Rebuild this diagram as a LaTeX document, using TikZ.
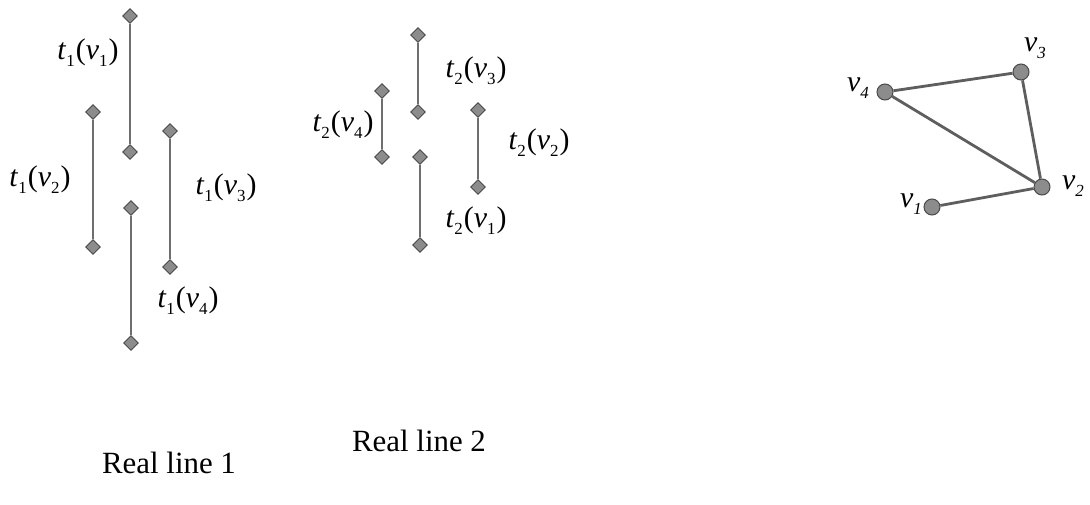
\documentclass[tikz,border=0pt]{standalone}
\usepackage{fontspec}
\setmainfont{Liberation Serif}
\usetikzlibrary{shapes.geometric}
\definecolor{segc}{HTML}{6E6E6E}
\definecolor{diafill}{HTML}{8C8C8C}
\definecolor{diadraw}{HTML}{4A4A4A}
\definecolor{edgec}{HTML}{5E5E5E}
\newcommand{\sbx}[1]{\lower0.5ex\hbox{\fontsize{17}{17}\selectfont #1}}
\newcommand{\tlab}[2]{\textit{t}\sbx{#1}\kern1pt(\textit{v}\sbx{#2}\kern1pt)}
\newcommand{\vlab}[1]{\textit{v}\sbx{\textit{#1}}}
\tikzset{
  dia/.style={diamond, fill=diafill, draw=diadraw, line width=0.9bp, minimum size=15bp, inner sep=0pt},
  seg/.style={draw=segc, line width=2.2bp},
  lab/.style={inner sep=0pt, font=\fontsize{30}{30}\selectfont},
  vdot/.style={circle, fill=diafill, draw=diadraw, line width=1bp, minimum size=16bp, inner sep=0pt},
  gedge/.style={draw=edgec, line width=2.8bp},
  captxt/.style={inner sep=0pt, font=\fontsize{31}{31}\selectfont}
}
\begin{document}
\begin{tikzpicture}[x=1bp,y=-1bp]
\useasboundingbox (0,0) rectangle (1090,505);
% Real line 1
\node[dia] (a1) at (130,16) {};
\node[dia] (b1) at (130,152) {};
\node[dia] (a2) at (93,112) {};
\node[dia] (b2) at (93,247) {};
\node[dia] (a3) at (170,131) {};
\node[dia] (b3) at (170,267) {};
\node[dia] (a4) at (131,208) {};
\node[dia] (b4) at (131,343) {};
\draw[seg] (a1) -- (b1);
\draw[seg] (a2) -- (b2);
\draw[seg] (a3) -- (b3);
\draw[seg] (a4) -- (b4);
\node[lab] (l11) at (88,53) {\tlab{1}{1}};
\node[lab] (l12) at (40,180) {\tlab{1}{2}};
\node[lab] (l13) at (226,188) {\tlab{1}{3}};
\node[lab] (l14) at (188,301) {\tlab{1}{4}};
% Real line 2
\node[dia] (c3) at (418,35) {};
\node[dia] (d3) at (418,112) {};
\node[dia] (c4) at (382,91) {};
\node[dia] (d4) at (382,157) {};
\node[dia] (c2) at (478,110) {};
\node[dia] (d2) at (478,187) {};
\node[dia] (c1) at (420,157) {};
\node[dia] (d1) at (420,245) {};
\draw[seg] (c3) -- (d3);
\draw[seg] (c4) -- (d4);
\draw[seg] (c2) -- (d2);
\draw[seg] (c1) -- (d1);
\node[lab] (l23) at (476,71) {\tlab{2}{3}};
\node[lab] (l24) at (343,125) {\tlab{2}{4}};
\node[lab] (l22) at (539,143) {\tlab{2}{2}};
\node[lab] (l21) at (476,221) {\tlab{2}{1}};
% captions
\node[captxt] (r1) at (169,463) {Real line 1};
\node[captxt] (r2) at (419,441) {Real line 2};
% graph
\node[vdot] (v1) at (932,207) {};
\node[vdot] (v2) at (1042,187) {};
\node[vdot] (v3) at (1021,72) {};
\node[vdot] (v4) at (885,92) {};
\draw[gedge] (v1) -- (v2);
\draw[gedge] (v2) -- (v3);
\draw[gedge] (v3) -- (v4);
\draw[gedge] (v4) -- (v2);
\node[lab] (n1) at (911,204) {\vlab{1}};
\node[lab] (n2) at (1073,186) {\vlab{2}};
\node[lab] (n3) at (1035,48) {\vlab{3}};
\node[lab] (n4) at (858,88) {\vlab{4}};
\end{tikzpicture}
\end{document}
